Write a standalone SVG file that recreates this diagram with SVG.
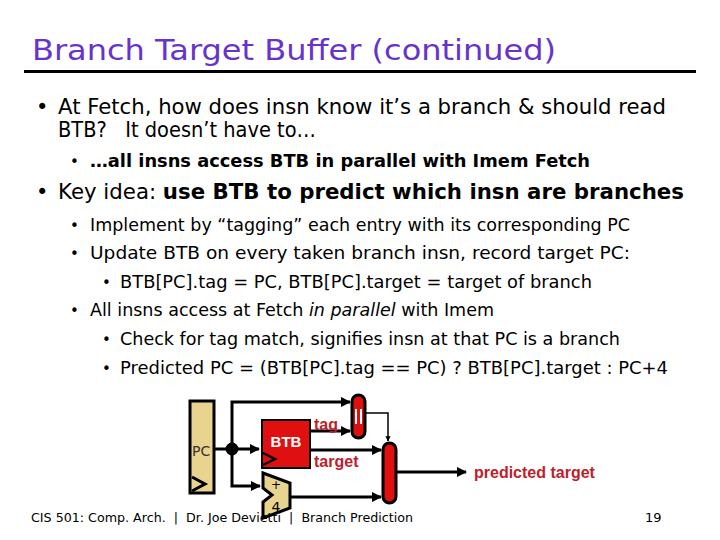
<svg xmlns="http://www.w3.org/2000/svg" width="720" height="540" viewBox="0 0 720 540">
<style>
.t{font-family:"DejaVu Sans",sans-serif;fill:#000}
.b{font-weight:bold}
.l{font-family:"Liberation Sans",Arial,sans-serif;font-weight:bold;fill:#c0202a;font-size:16px}
.w{stroke:#000;stroke-width:3;fill:none}
</style>
<defs><marker id="a" viewBox="0 0 10 10" refX="9" refY="5" markerWidth="3.5" markerHeight="3.5" orient="auto"><path d="M0,0L10,5L0,10z" fill="#000"/></marker></defs>
<rect width="720" height="540" fill="#fff"/>
<text x="32" y="60" font-family="DejaVu Sans,sans-serif" font-size="29" fill="#6633cc" textLength="524" lengthAdjust="spacingAndGlyphs">Branch Target Buffer (continued)</text>
<rect x="24" y="70" width="672" height="3" fill="#000"/>
<g class="t">
<text x="36" y="114" font-size="21">•</text>
<text x="58" y="114" font-size="21" textLength="608" lengthAdjust="spacingAndGlyphs">At Fetch, how does insn know it’s a branch &amp; should read</text>
<text x="58" y="137" font-size="21" textLength="258" lengthAdjust="spacingAndGlyphs">BTB?&#160;&#160; It doesn’t have to…</text>
<text x="70" y="167" font-size="15">•</text>
<text x="90" y="167" font-size="17" class="b" textLength="500" lengthAdjust="spacingAndGlyphs">…all insns access BTB in parallel with Imem Fetch</text>
<text x="36" y="199" font-size="21">•</text>
<text x="58" y="199" font-size="21" textLength="626" lengthAdjust="spacingAndGlyphs">Key idea: <tspan class="b">use BTB to predict which insn are branches</tspan></text>
<g font-size="17">
<text x="70" y="231" font-size="15">•</text>
<text x="90" y="231" textLength="540" lengthAdjust="spacingAndGlyphs">Implement by “tagging” each entry with its corresponding PC</text>
<text x="70" y="259" font-size="15">•</text>
<text x="90" y="259" textLength="540" lengthAdjust="spacingAndGlyphs">Update BTB on every taken branch insn, record target PC:</text>
<text x="102" y="288" font-size="15">•</text>
<text x="120" y="288" textLength="472" lengthAdjust="spacingAndGlyphs">BTB[PC].tag = PC, BTB[PC].target = target of branch</text>
<text x="70" y="316" font-size="15">•</text>
<text x="90" y="316" textLength="404" lengthAdjust="spacingAndGlyphs">All insns access at Fetch <tspan font-style="italic">in parallel</tspan> with Imem</text>
<text x="102" y="345" font-size="15">•</text>
<text x="120" y="345" textLength="500" lengthAdjust="spacingAndGlyphs">Check for tag match, signifies insn at that PC is a branch</text>
<text x="102" y="374" font-size="15">•</text>
<text x="120" y="374" textLength="548" lengthAdjust="spacingAndGlyphs">Predicted PC = (BTB[PC].tag == PC) ? BTB[PC].target : PC+4</text>
</g>
</g>
<g id="connectors" class="w">
<path d="M214,449H259" marker-end="url(#a)"/>
<path d="M232,449V402H350" marker-end="url(#a)"/>
<path d="M232,449V486H260" marker-end="url(#a)"/>
<path d="M310,431H350" marker-end="url(#a)"/>
<path d="M310,450H381" marker-end="url(#a)"/>
<path d="M365,413H388V441" stroke-width="1.5" marker-end="url(#a)"/>
<path d="M290,497H381" marker-end="url(#a)"/>
<path d="M396,472H466" marker-end="url(#a)"/>
<circle cx="232" cy="449" r="5" fill="#000"/>
</g>
<g id="pc">
<rect x="190" y="401" width="24" height="92" fill="#e8d48e" stroke="#000" stroke-width="3"/>
<text x="192" y="456" font-family="DejaVu Sans,sans-serif" font-size="14" fill="#333">PC</text>
<path d="M192,477L205,484L192,491" fill="none" stroke="#000" stroke-width="3"/>
</g>
<g id="btb">
<rect x="262" y="420" width="48" height="48" fill="#e01010" stroke="#000" stroke-width="2"/>
<text x="286" y="447" text-anchor="middle" font-family="Liberation Sans,sans-serif" font-weight="bold" font-size="15" fill="#fff">BTB</text>
<path d="M263,453L275,459L263,465" fill="none" stroke="#000" stroke-width="2.5"/>
</g>
<text class="l" x="314" y="430">tag</text>
<text class="l" x="314" y="467">target</text>
<g id="cmp">
<rect x="352" y="395" width="13" height="43" rx="6.5" fill="#e01010" stroke="#000" stroke-width="3"/>
<path d="M356,409V424M361,409V424" stroke="#fff" stroke-width="2"/>
</g>
<g id="mux">
<rect x="383" y="443" width="13" height="60" rx="6.5" fill="#e01010" stroke="#000" stroke-width="3"/>
</g>
<g id="adder">
<path d="M263,473L290,483V508L263,518V502L272,495L263,488Z" fill="#e8d48e" stroke="#000" stroke-width="3"/>
<text x="276" y="489" font-family="DejaVu Sans,sans-serif" font-size="12" text-anchor="middle">+</text>
<text x="276" y="512" font-family="DejaVu Sans,sans-serif" font-size="14" text-anchor="middle">4</text>
</g>
<text class="l" x="474" y="478">predicted target</text>
<text x="31" y="522" font-family="DejaVu Sans,sans-serif" font-size="13" textLength="382" lengthAdjust="spacingAndGlyphs">CIS 501: Comp. Arch.&#160; |&#160; Dr. Joe Devietti&#160; |&#160; Branch Prediction</text>
<text x="645" y="522" font-family="DejaVu Sans,sans-serif" font-size="13">19</text>
</svg>
